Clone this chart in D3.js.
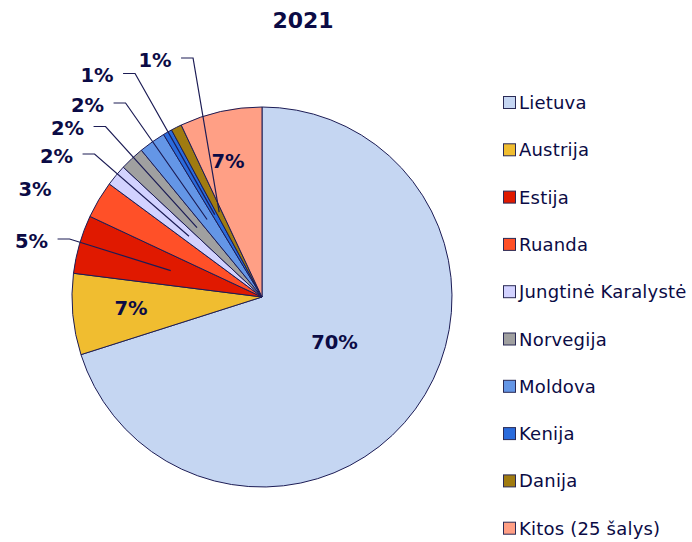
<!DOCTYPE html>
<html lang="lt">
<head>
	<meta charset="UTF-8">
	<title>2021</title>
	<script src="https://cdn.jsdelivr.net/npm/d3@7"></script>
	<style>
		body { margin: 0; background: #fff; }
		text { font-family: "DejaVu Sans", Verdana, sans-serif; fill: #0b0b45; }
		.slice { stroke: #1c1c55; stroke-width: 1; }
		.lbl { font-weight: bold; font-size: 19.5px; }
		.leader { fill: none; stroke: #1c1c55; stroke-width: 1.2; }
		.legend text { font-size: 18px; letter-spacing: 0.2px; }
		.legend rect { stroke: #2a2a55; stroke-width: 1; }
	</style>
</head>
<body>
<script type="text/javascript">

	var countries = ['Lietuva', 'Austrija', 'Estija', 'Ruanda', 'Jungtinė Karalystė',
		'Norvegija', 'Moldova', 'Kenija', 'Danija', 'Kitos (25 šalys)'];
	var shares = [70.1, 6.9, 4.98, 3.17, 1.83, 2.08, 2.28, 0.77, 0.91, 6.99];
	var shareLabels = ['70%', '7%', '5%', '3%', '2%', '2%', '2%', '1%', '1%', '7%'];
	var colors = ['#C5D6F2', '#F0BD30', '#E01900', '#FF5028', '#D2D2FF',
		'#A0A0A0', '#6496E6', '#2A6BDC', '#A07B10', '#FF9F85'];

	// where the percent labels sit (centre of text) and whether they get a leader line
	var labelPos = [
		{x: 334.5, y: 342, leader: false},
		{x: 131, y: 308, leader: false},
		{x: 31.5, y: 241, leader: true},
		{x: 35, y: 189, leader: false},
		{x: 56.5, y: 156, leader: true},
		{x: 67.5, y: 128.5, leader: true},
		{x: 87.5, y: 105, leader: true},
		{x: 97, y: 75.5, leader: true},
		{x: 155, y: 60, leader: true},
		{x: 228, y: 161, leader: false}
	];

	var W = 692, H = 542;
	var cx = 262, cy = 297, R = 190;

	var svg = d3.select('body').append('svg')
		.attr('width', W)
		.attr('height', H);

	svg.append('text')
		.attr('x', 303)
		.attr('y', 28)
		.attr('text-anchor', 'middle')
		.style('font-weight', 'bold')
		.style('font-size', '22px')
		.text('2021');

	var pie = d3.pie().sort(null).value(function (d) { return d; });
	var arcs = pie(shares);
	var arc = d3.arc().innerRadius(0).outerRadius(R);

	var g = svg.append('g')
		.attr('transform', 'translate(' + cx + ',' + cy + ')');

	g.selectAll('.slice')
		.data(arcs)
		.enter().append('path')
		.attr('class', 'slice')
		.attr('d', arc)
		.attr('fill', function (d, i) { return colors[i]; });

	// labels
	var lbls = svg.selectAll('.lbl')
		.data(arcs)
		.enter().append('text')
		.attr('class', 'lbl')
		.attr('x', function (d, i) { return labelPos[i].x; })
		.attr('y', function (d, i) { return labelPos[i].y; })
		.attr('text-anchor', 'middle')
		.attr('dominant-baseline', 'central')
		.text(function (d, i) { return shareLabels[i]; });

	lbls.each(function (d, i) {
		if (!labelPos[i].leader) return;
		var bb = this.getBBox();
		var c = arc.centroid(d);
		var x0 = bb.x + bb.width + 9.5, y0 = labelPos[i].y - 2;
		svg.append('polyline')
			.attr('class', 'leader')
			.attr('points', [[x0, y0], [x0 + 12, y0], [cx + c[0], cy + c[1]]].join(' '));
	});

	// legend
	var legend = svg.append('g').attr('class', 'legend');
	var rowY = d3.scalePoint().domain(countries).range([109, 534.7]);

	var item = legend.selectAll('g')
		.data(countries)
		.enter().append('g')
		.attr('transform', function (d) { return 'translate(503,' + rowY(d) + ')'; });

	item.append('rect')
		.attr('x', 0.5)
		.attr('y', -12.5)
		.attr('width', 12)
		.attr('height', 12)
		.attr('fill', function (d, i) { return colors[i]; });

	item.append('text')
		.attr('x', 16)
		.attr('y', 0)
		.text(function (d) { return d; });

</script>
</body>
</html>
